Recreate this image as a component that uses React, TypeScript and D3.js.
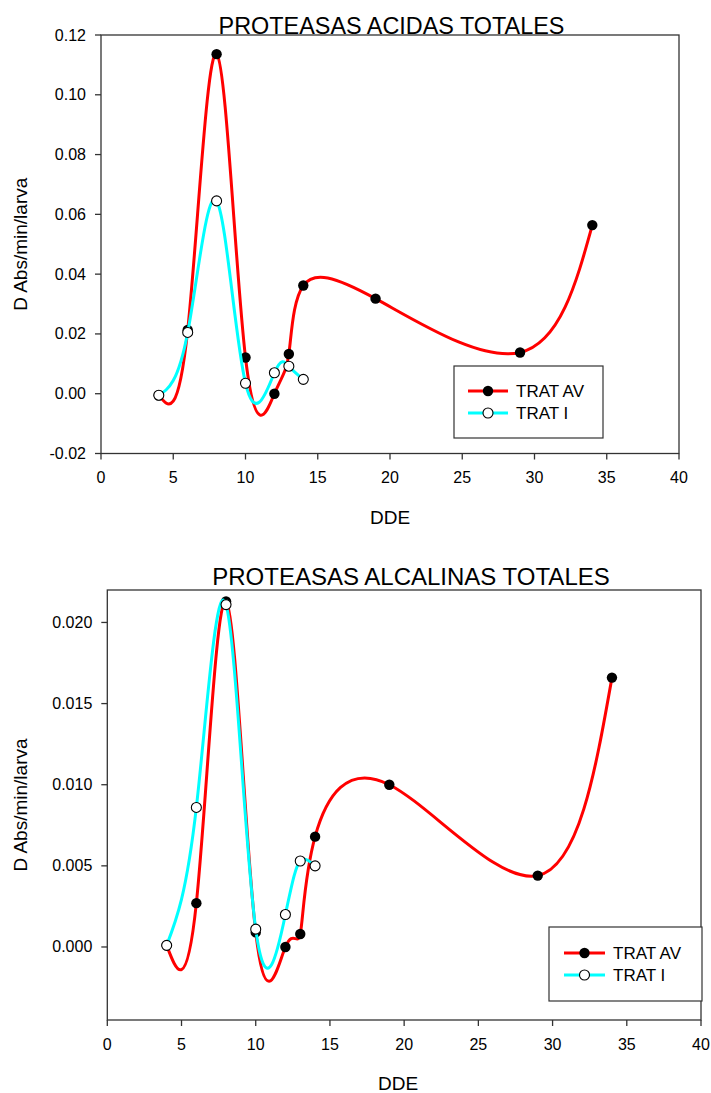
import React from "react";
import * as d3 from "d3";

// ---------- data ----------
const acidDays_AV = [4, 6, 8, 10, 12, 13, 14, 19, 29, 34];
const acidVals_AV = [-0.0005, 0.0213, 0.1136, 0.0121, 0.0, 0.0133, 0.0362, 0.0318, 0.0138, 0.0564];
const acidDays_I = [4, 6, 8, 10, 12, 13, 14];
const acidVals_I = [-0.0005, 0.0205, 0.0645, 0.0035, 0.007, 0.0092, 0.0048];

const alkDays_AV = [4, 6, 8, 10, 12, 13, 14, 19, 29, 34];
const alkVals_AV = [0.0001, 0.0027, 0.0213, 0.0009, 0.0, 0.0008, 0.0068, 0.01, 0.0044, 0.0166];
const alkDays_I = [4, 6, 8, 10, 12, 13, 14];
const alkVals_I = [0.0001, 0.0086, 0.0211, 0.0011, 0.002, 0.0053, 0.005];

const xTicks = [0, 5, 10, 15, 20, 25, 30, 35, 40];
const acidYTicks = [-0.02, 0, 0.02, 0.04, 0.06, 0.08, 0.1, 0.12];
const alkYTicks = [0, 0.005, 0.01, 0.015, 0.02];
const seriesNames = ["TRAT AV", "TRAT I"];

const FONT = "'Liberation Sans', Arial, sans-serif";

type PanelProps = {
  title: string;
  titleX: number;
  titleY: number;
  titleSize: number;
  left: number;
  right: number;
  top: number;
  bottom: number;
  yDomain: [number, number];
  yTicks: number[];
  yFmt: string;
  xLabelX: number;
  xLabelY: number;
  avX: number[];
  avY: number[];
  iX: number[];
  iY: number[];
  legend: { x0: number; y0: number; x1: number; y1: number; lx0: number; lx1: number; r1: number; r2: number; tx: number };
};

function Panel(p: PanelProps) {
  const x = d3.scaleLinear().domain([0, 40]).range([p.left, p.right]);
  const y = d3.scaleLinear().domain(p.yDomain).range([p.bottom, p.top]);
  const fmt = d3.format(p.yFmt);
  const line = d3
    .line<[number, number]>()
    .x((d) => x(d[0]))
    .y((d) => y(d[1]))
    .curve(d3.curveNatural);
  const av = p.avX.map((d, i) => [d, p.avY[i]] as [number, number]);
  const ii = p.iX.map((d, i) => [d, p.iY[i]] as [number, number]);
  const axisColor = "#333";
  const L = p.legend;
  return (
    <g fontFamily={FONT}>
      <text x={p.titleX} y={p.titleY} textAnchor="middle" fontSize={p.titleSize} fill="#000">
        {p.title}
      </text>
      <rect
        x={p.left}
        y={p.top}
        width={p.right - p.left}
        height={p.bottom - p.top}
        fill="none"
        stroke={axisColor}
        strokeWidth={1.3}
      />
      {p.yTicks.map((t) => (
        <g key={"y" + t}>
          <line x1={p.left - 6} x2={p.left} y1={y(t)} y2={y(t)} stroke={axisColor} strokeWidth={1.3} />
          <text x={p.left - 15} y={y(t) + 5.5} textAnchor="end" fontSize={16} fill="#000">
            {fmt(t).replace("−", "-")}
          </text>
        </g>
      ))}
      {xTicks.map((t) => (
        <g key={"x" + t}>
          <line x1={x(t)} x2={x(t)} y1={p.bottom} y2={p.bottom + 6} stroke={axisColor} strokeWidth={1.3} />
          <text x={x(t)} y={p.bottom + 29.5} textAnchor="middle" fontSize={16} fill="#000">
            {t}
          </text>
        </g>
      ))}
      <text x={p.xLabelX} y={p.xLabelY} textAnchor="middle" fontSize={19} fill="#000">
        DDE
      </text>
      <text
        transform={`translate(27,${(p.top + p.bottom) / 2}) rotate(-90)`}
        textAnchor="middle"
        fontSize={19}
        fill="#000"
      >
        D Abs/min/larva
      </text>
      <path d={line(av) || ""} fill="none" stroke="#ff0000" strokeWidth={3} />
      {av.map((d, i) => (
        <circle key={"a" + i} cx={x(d[0])} cy={y(d[1])} r={5.2} fill="#000" />
      ))}
      <path d={line(ii) || ""} fill="none" stroke="#00ffff" strokeWidth={3} />
      {ii.map((d, i) => (
        <circle key={"b" + i} cx={x(d[0])} cy={y(d[1])} r={5} fill="#fff" stroke="#000" strokeWidth={1.1} />
      ))}
      <rect x={L.x0} y={L.y0} width={L.x1 - L.x0} height={L.y1 - L.y0} fill="#fff" stroke={axisColor} strokeWidth={1.2} />
      <line x1={L.lx0} x2={L.lx1} y1={L.r1} y2={L.r1} stroke="#ff0000" strokeWidth={3} />
      <circle cx={(L.lx0 + L.lx1) / 2} cy={L.r1} r={5.2} fill="#000" />
      <text x={L.tx} y={L.r1 + 6} fontSize={17} fill="#000">
        {seriesNames[0]}
      </text>
      <line x1={L.lx0} x2={L.lx1} y1={L.r2} y2={L.r2} stroke="#00ffff" strokeWidth={3} />
      <circle cx={(L.lx0 + L.lx1) / 2} cy={L.r2} r={5} fill="#fff" stroke="#000" strokeWidth={1.1} />
      <text x={L.tx} y={L.r2 + 6} fontSize={17} fill="#000">
        {seriesNames[1]}
      </text>
    </g>
  );
}

export default function App() {
  return (
    <svg
      width={711}
      height={1093}
      style={{ position: "absolute", left: 0, top: 0, background: "#fff" }}
    >
      <rect x={0} y={0} width={711} height={1093} fill="#fff" />
      <Panel
        title="PROTEASAS ACIDAS TOTALES"
        titleX={391.5}
        titleY={33.5}
        titleSize={23.4}
        left={101}
        right={679}
        top={35}
        bottom={453.5}
        yDomain={[-0.02, 0.12]}
        yTicks={acidYTicks}
        yFmt=".2f"
        xLabelX={390}
        xLabelY={523.5}
        avX={acidDays_AV}
        avY={acidVals_AV}
        iX={acidDays_I}
        iY={acidVals_I}
        legend={{ x0: 454, y0: 366, x1: 603, y1: 438, lx0: 468, lx1: 508, r1: 391, r2: 413, tx: 516 }}
      />
      <Panel
        title="PROTEASAS ALCALINAS TOTALES"
        titleX={411}
        titleY={585}
        titleSize={24}
        left={107.3}
        right={701}
        top={590}
        bottom={1020}
        yDomain={[-0.0045, 0.022]}
        yTicks={alkYTicks}
        yFmt=".3f"
        xLabelX={398}
        xLabelY={1090}
        avX={alkDays_AV}
        avY={alkVals_AV}
        iX={alkDays_I}
        iY={alkVals_I}
        legend={{ x0: 549, y0: 927, x1: 702, y1: 1001, lx0: 564, lx1: 605, r1: 953, r2: 975, tx: 613 }}
      />
    </svg>
  );
}
